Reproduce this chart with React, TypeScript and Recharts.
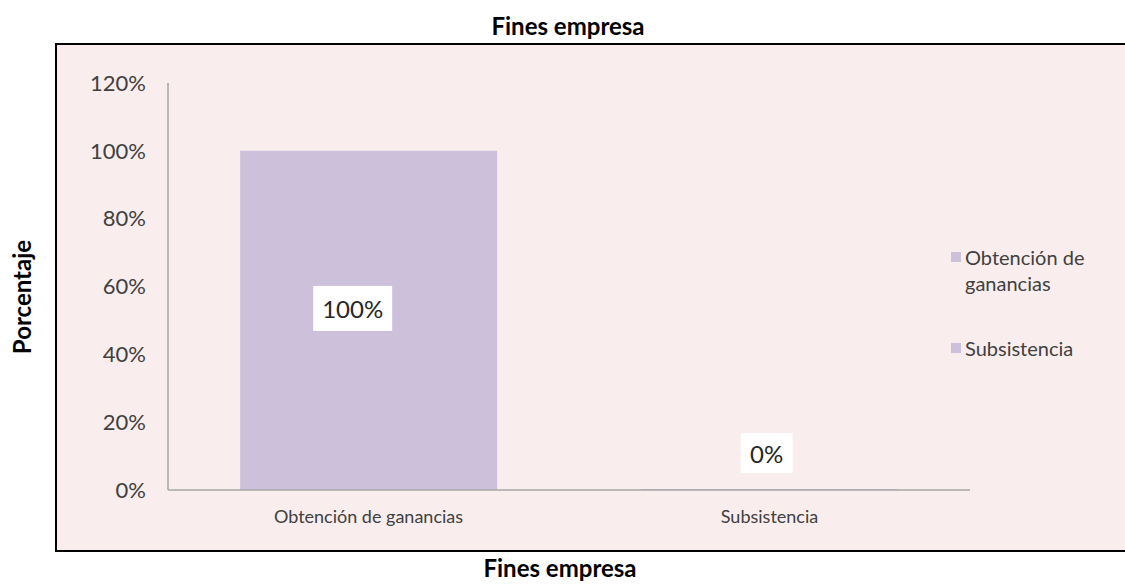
import React from 'react';
import { BarChart, Bar, XAxis, YAxis, Cell, LabelList } from 'recharts';

const categories: string[] = ['Obtención de ganancias', 'Subsistencia'];
const values: number[] = [1.0, 0.0];
const yTicks: number[] = [0, 0.2, 0.4, 0.6, 0.8, 1.0, 1.2];
const barColors: string[] = ['#ccc0da', '#ccc0da'];
const chartTitle = 'Fines empresa';
const xTitle = 'Fines empresa';
const yTitle = 'Porcentaje';

const data = categories.map((name, i) => ({ name, value: values[i] }));

const FONT = "Lato, 'Noto Sans', sans-serif";
const pct = (v: number) => `${Math.round(v * 100)}%`;

const DataLabel = (props: any) => {
  const { x, y, width, height, value } = props;
  const cx = Number(x) + Number(width) / 2;
  const isZero = !Number(value);
  const w = isZero ? 52 : 79;
  const h = isZero ? 40 : 45;
  const tx = isZero ? cx - 3 : cx - 16;
  const ty = isZero ? Number(y) + Number(height) - 37 : Number(y) + Number(height) / 2 - 12;
  return (
    <g>
      <rect x={tx - w / 2} y={ty - h / 2} width={w} height={h} fill="#ffffff" />
      <text
        x={tx}
        y={ty}
        textAnchor="middle"
        dominantBaseline="central"
        fontSize={24}
        fontFamily={FONT}
        fill="#262626"
      >
        {pct(Number(value) || 0)}
      </text>
    </g>
  );
};

export default function App() {
  return (
    <div
      style={{
        position: 'absolute',
        left: 0,
        top: 0,
        width: 1125,
        height: 586,
        background: '#ffffff',
        overflow: 'hidden',
        fontFamily: FONT,
      }}
    >
      <div
        style={{
          position: 'absolute',
          left: 55,
          top: 43,
          width: 1100,
          height: 505,
          background: '#f9eeed',
          borderTop: '2px solid #000',
          borderLeft: '2px solid #000',
          borderBottom: '2px solid #000',
        }}
      />
      <div
        style={{
          position: 'absolute',
          left: 0,
          width: 1136,
          top: 12,
          textAlign: 'center',
          fontWeight: 700,
          fontSize: 24,
          lineHeight: '28px',
          color: '#000',
        }}
      >
        {chartTitle}
      </div>
      <div
        style={{
          position: 'absolute',
          left: 0,
          width: 1120,
          top: 554,
          textAlign: 'center',
          fontWeight: 700,
          fontSize: 24,
          lineHeight: '28px',
          color: '#000',
        }}
      >
        {xTitle}
      </div>
      <div
        style={{
          position: 'absolute',
          left: 22,
          top: 297,
          transform: 'translate(-50%, -50%) rotate(-90deg)',
          fontWeight: 700,
          fontSize: 24,
          lineHeight: '28px',
          whiteSpace: 'nowrap',
          color: '#000',
        }}
      >
        {yTitle}
      </div>
      <div style={{ position: 'absolute', left: 0, top: 0 }}>
        <BarChart
          width={1125}
          height={586}
          data={data}
          margin={{ top: 83, right: 155, bottom: 66, left: 68 }}
          barCategoryGap="18%"
        >
          <XAxis
            dataKey="name"
            interval={0}
            height={30}
            tickLine={false}
            tickSize={6}
            tickMargin={14}
            axisLine={{ stroke: '#a6a6a6', strokeWidth: 1.5 }}
            tick={{ fontSize: 18, fill: '#404040', fontFamily: FONT }}
          />
          <YAxis
            width={100}
            domain={[0, 1.2]}
            ticks={yTicks}
            tickFormatter={pct}
            tickLine={false}
            tickSize={6}
            tickMargin={16}
            axisLine={{ stroke: '#a6a6a6', strokeWidth: 1.5 }}
            tick={{ fontSize: 22, fill: '#404040', fontFamily: FONT }}
          />
          <Bar
            dataKey="value"
            isAnimationActive={false}
            minPointSize={(v: number) => (v === 0 ? 1 : 0)}
          >
            {data.map((d, i) => (
              <Cell key={d.name} fill={barColors[i]} />
            ))}
            <LabelList dataKey="value" content={<DataLabel />} />
          </Bar>
        </BarChart>
      </div>
      <div style={{ position: 'absolute', left: 951, top: 244, width: 160 }}>
        {categories.map((c, i) => (
          <div
            key={c}
            style={{
              display: 'flex',
              alignItems: 'flex-start',
              marginBottom: 39,
              fontSize: 20,
              lineHeight: '26px',
              color: '#404040',
            }}
          >
            <span
              style={{
                display: 'inline-block',
                width: 10,
                height: 10,
                marginTop: 8,
                marginRight: 4,
                background: barColors[i],
                flex: '0 0 auto',
              }}
            />
            <span style={{ width: 135 }}>{c}</span>
          </div>
        ))}
      </div>
    </div>
  );
}
